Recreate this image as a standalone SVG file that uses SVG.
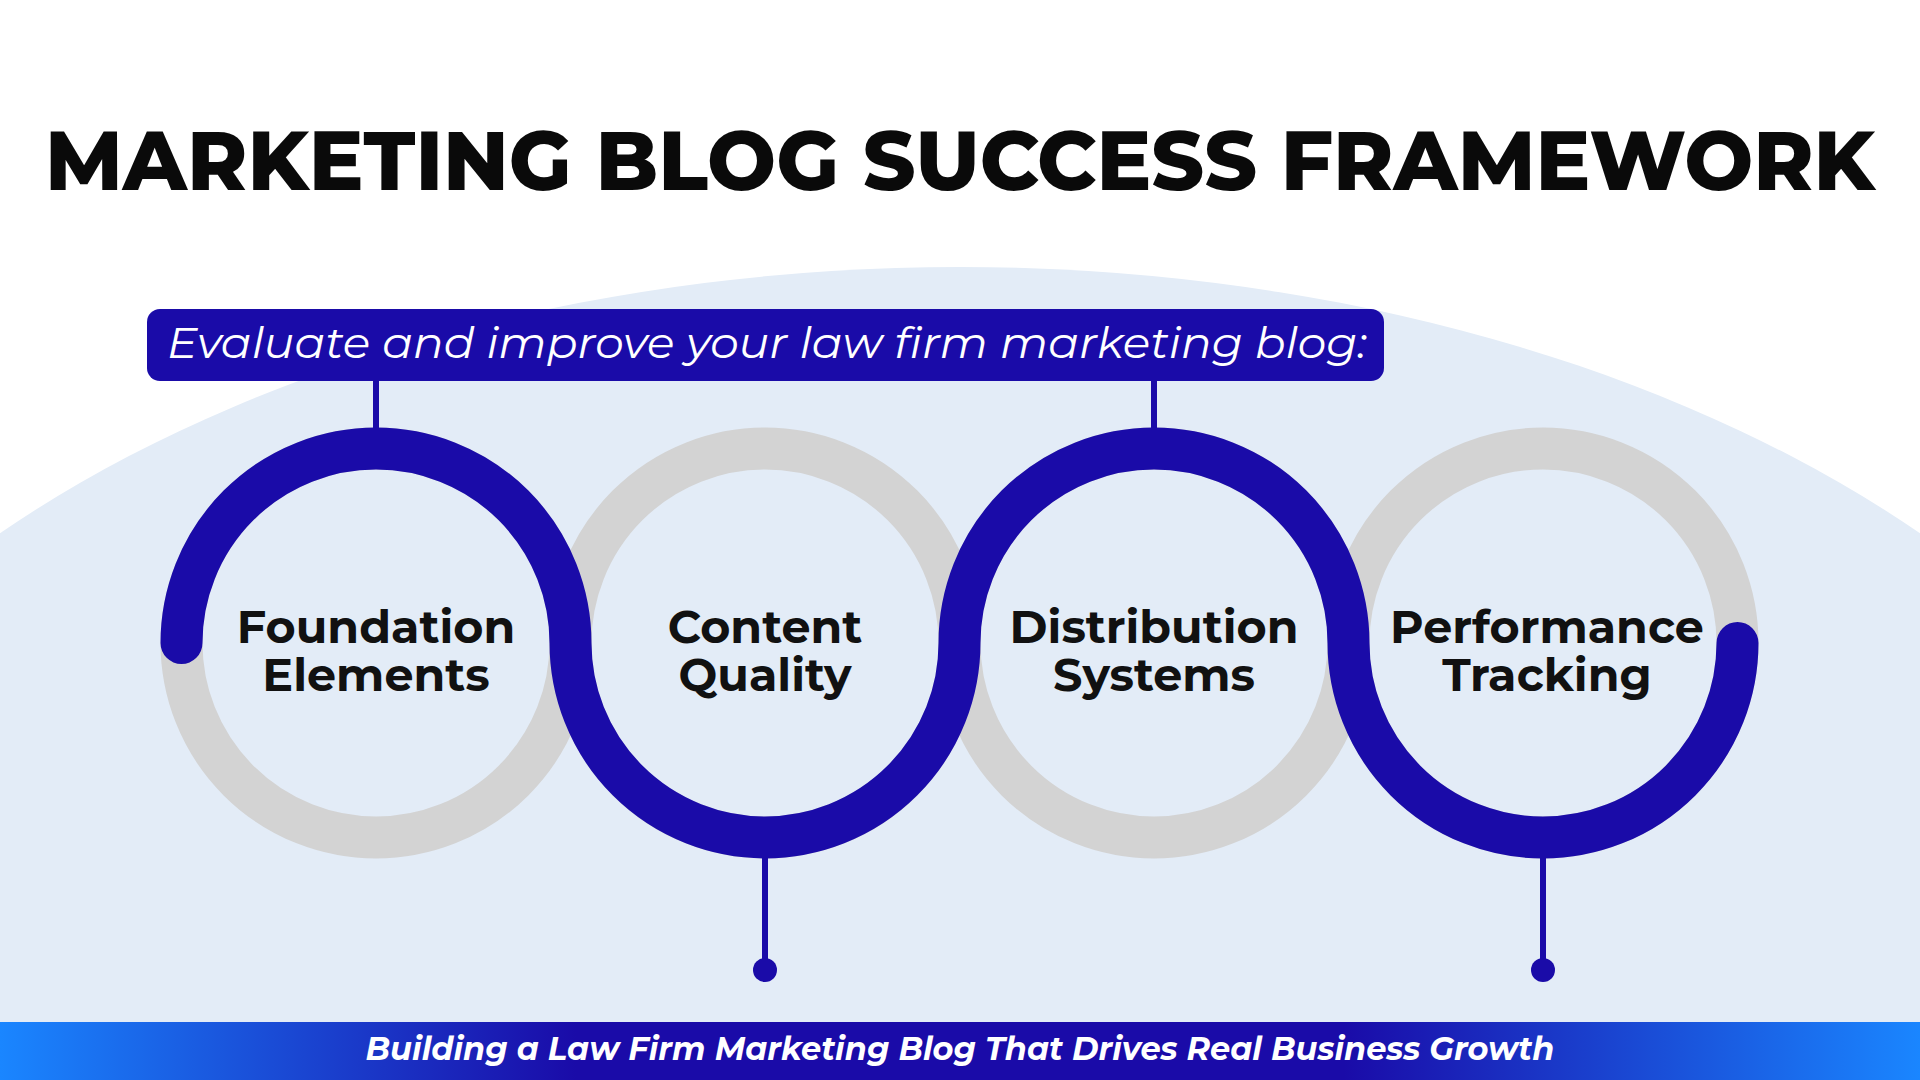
<svg xmlns="http://www.w3.org/2000/svg" width="1920" height="1080" viewBox="0 0 1920 1080">
<style>
.t{font-family:Montserrat,"Open Sans","Liberation Sans",sans-serif;font-weight:800;fill:#0a0a0a}
.lbl{font-family:Montserrat,"Open Sans","Liberation Sans",sans-serif;font-weight:700;font-size:46px;fill:#111;text-anchor:middle}
.gray{fill:none;stroke:#D3D3D3;stroke-width:42}
.conn{stroke:#1A0BA8;stroke-width:6;fill:none}
</style>
<defs>
<linearGradient id="bar" x1="0" x2="1" y1="0" y2="0">
<stop offset="0" stop-color="#1A86FF"/>
<stop offset="0.3" stop-color="#1A0BA8"/>
<stop offset="0.7" stop-color="#1A0BA8"/>
<stop offset="1" stop-color="#1A86FF"/>
</linearGradient>
</defs>
<rect width="1920" height="1080" fill="#fff"/>
<ellipse cx="960" cy="1100" rx="1310" ry="833" fill="#E3ECF7"/>
<text class="t" x="960" y="190" font-size="84" text-anchor="middle" textLength="1830" lengthAdjust="spacingAndGlyphs">MARKETING BLOG SUCCESS FRAMEWORK</text>
<g id="banner">
<rect x="147" y="309" width="1237" height="72" rx="13" fill="#1A0BA8"/>
<text x="167" y="358" font-family="Montserrat,'Open Sans','Liberation Sans',sans-serif" font-style="italic" font-size="44" fill="#fff" textLength="1200" lengthAdjust="spacingAndGlyphs">Evaluate and improve your law firm marketing blog:</text>
</g>
<g id="rings">
<circle class="gray" cx="376" cy="643" r="194.5"/>
<circle class="gray" cx="765" cy="643" r="194.5"/>
<circle class="gray" cx="1154" cy="643" r="194.5"/>
<circle class="gray" cx="1543" cy="643" r="194.5"/>
</g>
<g id="connectors">
<path d="M181.5 643 A194.5 194.5 0 0 1 570.5 643 A194.5 194.5 0 0 0 959.5 643 A194.5 194.5 0 0 1 1348.5 643 A194.5 194.5 0 0 0 1737.5 643" fill="none" stroke="#1A0BA8" stroke-width="42" stroke-linecap="round"/>
<line class="conn" x1="376" y1="381" x2="376" y2="430"/>
<line class="conn" x1="1154" y1="381" x2="1154" y2="430"/>
<line class="conn" x1="765" y1="855" x2="765" y2="970"/>
<line class="conn" x1="1543" y1="855" x2="1543" y2="970"/>
<circle cx="765" cy="970" r="12" fill="#1A0BA8"/>
<circle cx="1543" cy="970" r="12" fill="#1A0BA8"/>
</g>
<g id="n1"><text class="lbl" x="376" y="643">Foundation</text><text class="lbl" x="376" y="691">Elements</text></g>
<g id="n2"><text class="lbl" x="765" y="643">Content</text><text class="lbl" x="765" y="691">Quality</text></g>
<g id="n3"><text class="lbl" x="1154" y="643">Distribution</text><text class="lbl" x="1154" y="691">Systems</text></g>
<g id="n4"><text class="lbl" x="1547" y="643">Performance</text><text class="lbl" x="1547" y="691">Tracking</text></g>
<g id="footer">
<rect x="0" y="1022" width="1920" height="58" fill="url(#bar)"/>
<text x="960" y="1060" font-family="Montserrat,'Open Sans','Liberation Sans',sans-serif" font-weight="700" font-style="italic" font-size="32" fill="#fff" text-anchor="middle">Building a Law Firm Marketing Blog That Drives Real Business Growth</text>
</g>
</svg>
